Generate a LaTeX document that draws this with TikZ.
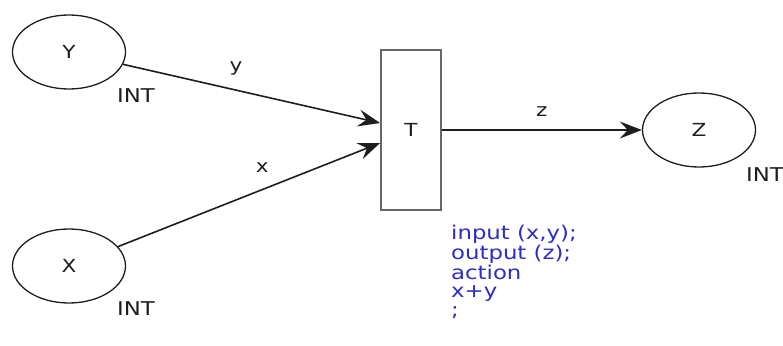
\documentclass[tikz,border=0pt]{standalone}
\usepackage{fontspec}
\usepackage{graphicx}
\setmainfont{DejaVu Sans}
\usetikzlibrary{arrows.meta,shapes.geometric}
\definecolor{codeblue}{RGB}{45,45,195}
\definecolor{ink}{RGB}{30,30,30}
\newcommand\wide[1]{\scalebox{1.2}[1]{#1}}
\tikzset{
  place/.style={ellipse,draw=ink,line width=1.3pt,minimum width=113pt,minimum height=74pt,inner sep=0pt,font=\fontsize{18}{18}\selectfont,text=ink},
  trans/.style={rectangle,draw=black!60,line width=1.8pt,minimum width=60pt,minimum height=160pt,inner sep=0pt,font=\fontsize{18}{18}\selectfont,text=ink},
  arc/.style={draw=ink,line width=1.6pt,-{Stealth[length=22pt,width=17pt,inset=8pt]}},
  lbl/.style={font=\fontsize{18}{18}\selectfont,text=ink,inner sep=0pt},
  typ/.style={font=\fontsize{19}{19}\selectfont,text=ink,inner sep=0pt},
  code/.style={font=\fontsize{19}{18.3}\selectfont,text=codeblue,inner sep=0pt,anchor=north west}
}
\begin{document}
\begin{tikzpicture}[x=1pt,y=-1pt]
\useasboundingbox (0,0) rectangle (783,345);
\node[place] (Y) at (69,52) {\wide{Y}};
\node[place] (X) at (69,266) {\wide{X}};
\node[trans] (T) at (411,130) {\wide{T}};
\node[place] (Z) at (699,130) {\wide{Z}};
\node[typ] (intY) at (136,96) {\wide{INT}};
\node[typ] (intX) at (136,309) {\wide{INT}};
\node[typ] (intZ) at (765,175) {\wide{INT}};
\draw[arc] (Y) -- node[lbl,pos=0.44,yshift=22pt] (ly) {\wide{y}} ([yshift=7pt]T.west);
\draw[arc] (X) -- node[lbl,pos=0.55,yshift=22pt] (lx) {\wide{x}} ([yshift=-13pt]T.west);
\draw[arc] (T) -- node[lbl,pos=0.5,yshift=18pt] (lz) {\wide{z}} (Z);
\node[code] (act) at (451,225) {\wide{\begin{tabular}{@{}l@{}}input (x,y);\\output (z);\\action\\x+y\\;\end{tabular}}};
\end{tikzpicture}
\end{document}
